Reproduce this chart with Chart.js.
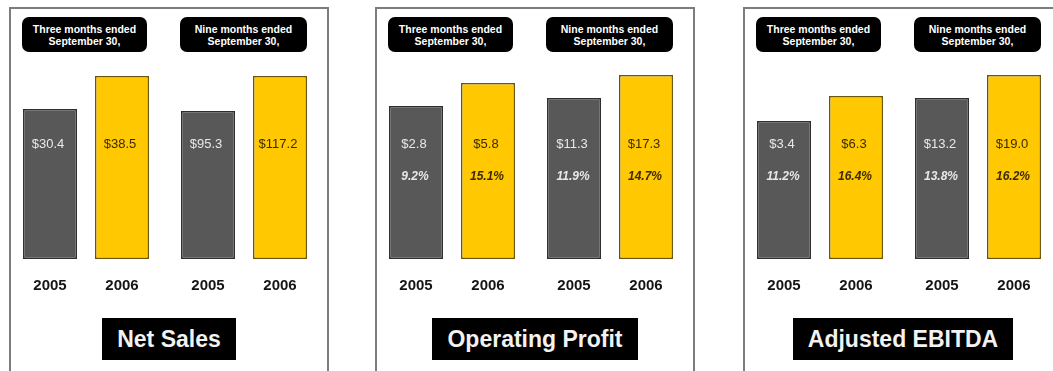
<!DOCTYPE html>
<html>
<head>
<meta charset="utf-8">
<script src="https://cdn.jsdelivr.net/npm/chart.js@4.4.1/dist/chart.umd.min.js"></script>
<style>
  body { margin: 0; width: 1053px; height: 371px; overflow: hidden; background: #fff; font-family: Arial, "Liberation Sans", sans-serif; }
  .panel { position: absolute; top: 7px; width: 320px; height: 380px; box-sizing: border-box; border: 2px solid #7c7c7c; overflow: hidden; background: #fff; }
  .panel canvas { position: absolute; left: -4px; top: 0; }
  .period { position: absolute; top: 8px; height: 35px; background: #000; color: #fff; border-radius: 7px;
            font: bold 10.5px/12px Arial, "Liberation Sans", sans-serif; text-align: center;
            display: flex; flex-direction: column; justify-content: center; }
  .title { position: absolute; top: 309px; left: 0; right: 0; text-align: center; }
  .title span { display: inline-block; background: #000; color: #f2f2f2; padding: 0 15px;
                font: bold 23px/42px Arial, "Liberation Sans", sans-serif; }
</style>
</head>
<body>
<script>
const periods = [['Three months ended', 'September 30,'], ['Nine months ended', 'September 30,']];
const years = ['2005', '2006'];

// $ millions, [three months, nine months]
const netSales2005 = [30.4, 95.3];
const netSales2006 = [38.5, 117.2];
const opProfit2005 = [2.8, 11.3];
const opProfit2006 = [5.8, 17.3];
const opMargin2005 = [9.2, 11.9];
const opMargin2006 = [15.1, 14.7];
const ebitda2005 = [3.4, 13.2];
const ebitda2006 = [6.3, 19.0];
const ebitdaMargin2005 = [11.2, 13.8];
const ebitdaMargin2006 = [16.4, 16.2];

const GREY = '#585858', GREY_EDGE = '#2e2e2e';
const GOLD = '#ffc800', GOLD_EDGE = '#6b5510';
const FONT = 'Arial, "Liberation Sans", sans-serif';

// each period gets its own hidden log axis, so the bars are not on a common scale
const panels = [
  { title: 'Net Sales', left: 9, values: [netSales2005, netSales2006], margins: null,
    ranges: [[10.4, 38.8], [39.8, 117.9]] },
  { title: 'Operating Profit', left: 375, values: [opProfit2005, opProfit2006], margins: [opMargin2005, opMargin2006],
    ranges: [[0.022, 7.47], [0.574, 17.3]] },
  { title: 'Adjusted EBITDA', left: 743, values: [ebitda2005, ebitda2006], margins: [ebitdaMargin2005, ebitdaMargin2006],
    ranges: [[0.113, 10.57], [1.03, 19.0]] }
];

const barText = {
  id: 'barText',
  afterDatasetsDraw(chart) {
    const { ctx, chartArea } = chart;
    ctx.save();
    ctx.textAlign = 'center';
    ctx.textBaseline = 'middle';
    chart.data.datasets.forEach((ds, i) => {
      chart.getDatasetMeta(i).data.forEach((bar, k) => {
        const v = ds.data[k];
        if (v == null) return;
        ctx.fillStyle = ds.textColor;
        ctx.font = '13px ' + FONT;
        ctx.fillText('$' + v.toFixed(1), bar.x - 2, chartArea.bottom - 115);
        if (ds.margin != null) {
          ctx.font = 'italic bold 12px ' + FONT;
          ctx.fillText(ds.margin.toFixed(1) + '%', bar.x - 1, chartArea.bottom - 82);
        }
        ctx.fillStyle = '#151515';
        ctx.font = 'bold 15px ' + FONT;
        ctx.fillText(ds.label, bar.x, chartArea.bottom + 27);
      });
    });
    ctx.restore();
  }
};

function buildDatasets(p) {
  const sets = [];
  periods.forEach((_, pi) => {
    years.forEach((year, yi) => {
      sets.push({
        label: year,
        data: periods.map((__, k) => (k === pi ? p.values[yi][pi] : null)),
        yAxisID: pi === 0 ? 'yThree' : 'yNine',
        backgroundColor: yi === 0 ? GREY : GOLD,
        borderColor: yi === 0 ? GREY_EDGE : GOLD_EDGE,
        textColor: yi === 0 ? '#e8e8e8' : '#3a2c00',
        margin: p.margins ? p.margins[yi][pi] : null
      });
    });
  });
  return sets;
}

panels.forEach((p) => {
  const panel = document.createElement('div');
  panel.className = 'panel';
  panel.style.left = p.left + 'px';

  const canvas = document.createElement('canvas');
  canvas.width = 320;
  canvas.height = 290;
  panel.appendChild(canvas);

  periods.forEach((lines, i) => {
    const box = document.createElement('div');
    box.className = 'period';
    box.style.left = (i === 0 ? 11 : 169) + 'px';
    box.style.width = (i === 0 ? 125 : 127) + 'px';
    lines.forEach((t) => {
      const line = document.createElement('div');
      line.textContent = t;
      box.appendChild(line);
    });
    panel.appendChild(box);
  });

  const title = document.createElement('div');
  title.className = 'title';
  const span = document.createElement('span');
  span.textContent = p.title;
  title.appendChild(span);
  panel.appendChild(title);

  document.body.appendChild(panel);

  new Chart(canvas, {
    type: 'bar',
    data: { labels: periods.map((l) => l.join(' ')), datasets: buildDatasets(p) },
    options: {
      responsive: false,
      animation: false,
      devicePixelRatio: 1,
      layout: { padding: { left: 0, right: 4, top: 66, bottom: 40 } },
      datasets: {
        bar: {
          skipNull: true,
          categoryPercentage: 0.911,
          barPercentage: 0.75,
          borderWidth: 1.5,
          borderSkipped: false
        }
      },
      plugins: { legend: { display: false }, tooltip: { enabled: false } },
      scales: {
        x: { display: false },
        yThree: { axis: 'y', type: 'logarithmic', display: false, bounds: 'data', min: p.ranges[0][0], max: p.ranges[0][1] },
        yNine: { axis: 'y', type: 'logarithmic', display: false, bounds: 'data', min: p.ranges[1][0], max: p.ranges[1][1] }
      }
    },
    plugins: [barText]
  });
});
</script>
</body>
</html>
